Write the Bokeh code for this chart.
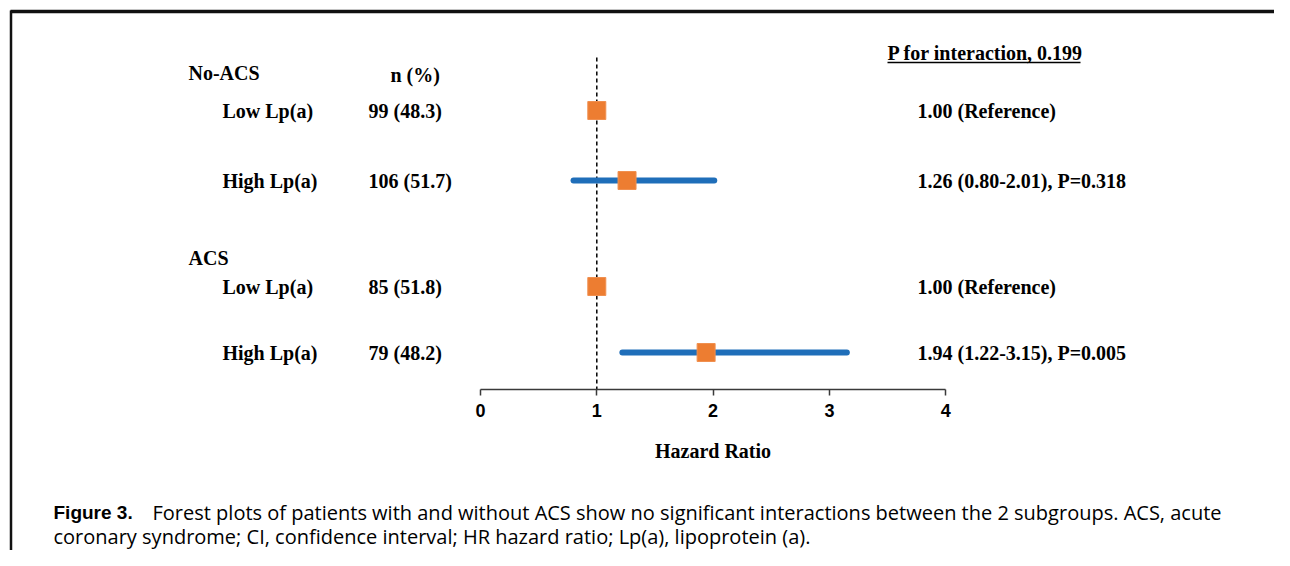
from bokeh.plotting import figure
from bokeh.models import Range1d, FixedTicker, ColumnDataSource
from bokeh.core.properties import value
from bokeh.embed import file_html
from bokeh.resources import INLINE

# ---------------- data ----------------
group_labels = ["No-ACS", "ACS"]
row_labels = ["Low Lp(a)", "High Lp(a)", "Low Lp(a)", "High Lp(a)"]
n_pct = ["99 (48.3)", "106 (51.7)", "85 (51.8)", "79 (48.2)"]
n_header = "n (%)"
hr = [1.00, 1.26, 1.00, 1.94]
ci_low = [0.80, 1.22]
ci_high = [2.01, 3.15]
hr_text = ["1.00 (Reference)", "1.26 (0.80-2.01), P=0.318",
           "1.00 (Reference)", "1.94 (1.22-3.15), P=0.005"]
p_interaction = "P for interaction, 0.199"
x_ticks = [0, 1, 2, 3, 4]
reference_hr = 1
axis_title = "Hazard Ratio"
caption_bold = "Figure 3."
caption_line1 = ("Forest plots of patients with and without ACS show no significant "
                 "interactions between the 2 subgroups. ACS, acute")
caption_line2 = ("coronary syndrome; CI, confidence interval; HR hazard ratio; "
                 "Lp(a), lipoprotein (a).")

# ---------------- layout (picture pixels) ----------------
W, H = 1274, 550
OFF = 0
ROW_Y = [110, 180, 286, 352]
GROUP_Y = [72, 257]
CI_ROWS = [1, 3]
AXIS_Y = 389
DASH_TOP = 57
X0_PAGE, PX_PER_UNIT = 480, 116.3

SERIF = value("Liberation Serif")
SANS = value("Open Sans")
SANS_BOLD = value("Liberation Sans")
BLUE = "#1F6EB9"
ORANGE = "#ED7D31"

p = figure(width=W, height=H,
           x_range=Range1d((OFF - X0_PAGE) / PX_PER_UNIT, (OFF + W - X0_PAGE) / PX_PER_UNIT),
           y_range=Range1d(OFF + H, OFF),
           output_backend="svg", toolbar_location=None, min_border=0,
           y_axis_type=None)
p.extra_x_ranges = {"page": Range1d(OFF, OFF + W)}
p.grid.visible = False
p.outline_line_color = None
p.background_fill_color = "white"
p.border_fill_color = "white"

ax = p.xaxis[0]
ax.fixed_location = AXIS_Y
ax.bounds = (0, 4)
ax.ticker = FixedTicker(ticks=x_ticks)
ax.minor_tick_line_color = None
ax.major_tick_in = 0
ax.major_tick_out = 6
ax.major_tick_line_color = "#3a3a3a"
ax.major_tick_line_width = 1.5
ax.axis_line_color = "#3a3a3a"
ax.axis_line_width = 1.5
ax.major_label_text_font = "Liberation Sans"
ax.major_label_text_font_style = "bold"
ax.major_label_text_font_size = "18px"
ax.major_label_text_color = "black"
ax.major_label_standoff = 8
ax.axis_label = axis_title
ax.axis_label_text_font = "Liberation Serif"
ax.axis_label_text_font_style = "bold"
ax.axis_label_text_font_size = "20px"
ax.axis_label_text_color = "black"
ax.axis_label_standoff = 20

# frame border lines
p.segment(x0=[10, 10.5], y0=[11, 10], x1=[OFF + W, 10.5], y1=[11, OFF + H],
          x_range_name="page", line_color="#111111", line_width=[3.5, 2.5])

# reference line at HR = 1
p.segment(x0=[reference_hr], y0=[DASH_TOP], x1=[reference_hr], y1=[AXIS_Y],
          line_color="black", line_width=1.5, line_dash="4 3")

# confidence intervals
ci_src = ColumnDataSource(dict(lo=ci_low, hi=ci_high, y=[ROW_Y[i] for i in CI_ROWS]))
p.segment(x0="lo", x1="hi", y0="y", y1="y", source=ci_src,
          line_color=BLUE, line_width=6, line_cap="round")

# point estimates
p.scatter(x=hr, y=ROW_Y, marker="square", size=18,
          fill_color=ORANGE, line_color="#F09050", line_width=1)

def txt(xs, ys, texts, font=SERIF, size="20px", style="bold", align="left"):
    p.text(x=xs, y=ys, text=texts, x_range_name="page", text_font=font,
           text_font_size=size, text_font_style=style, text_align=align,
           text_baseline="middle", text_color="black")

txt([188, 188], GROUP_Y, group_labels)
txt([222] * 4, ROW_Y, row_labels)
txt([390], [74], [n_header])
txt([368] * 4, ROW_Y, n_pct)
txt([917] * 4, ROW_Y, hr_text)
txt([887], [52], [p_interaction])
p.segment(x0=[887], x1=[1080], y0=[62], y1=[62], x_range_name="page",
          line_color="black", line_width=1.3)

# caption
txt([53], [512], [caption_bold], font=SANS_BOLD, size="19px", style="bold")
txt([152], [512], [caption_line1], font=SANS, size="20px", style="normal")
txt([53], [536], [caption_line2], font=SANS, size="20px", style="normal")

open("out.html", "w").write(file_html(p, INLINE))
